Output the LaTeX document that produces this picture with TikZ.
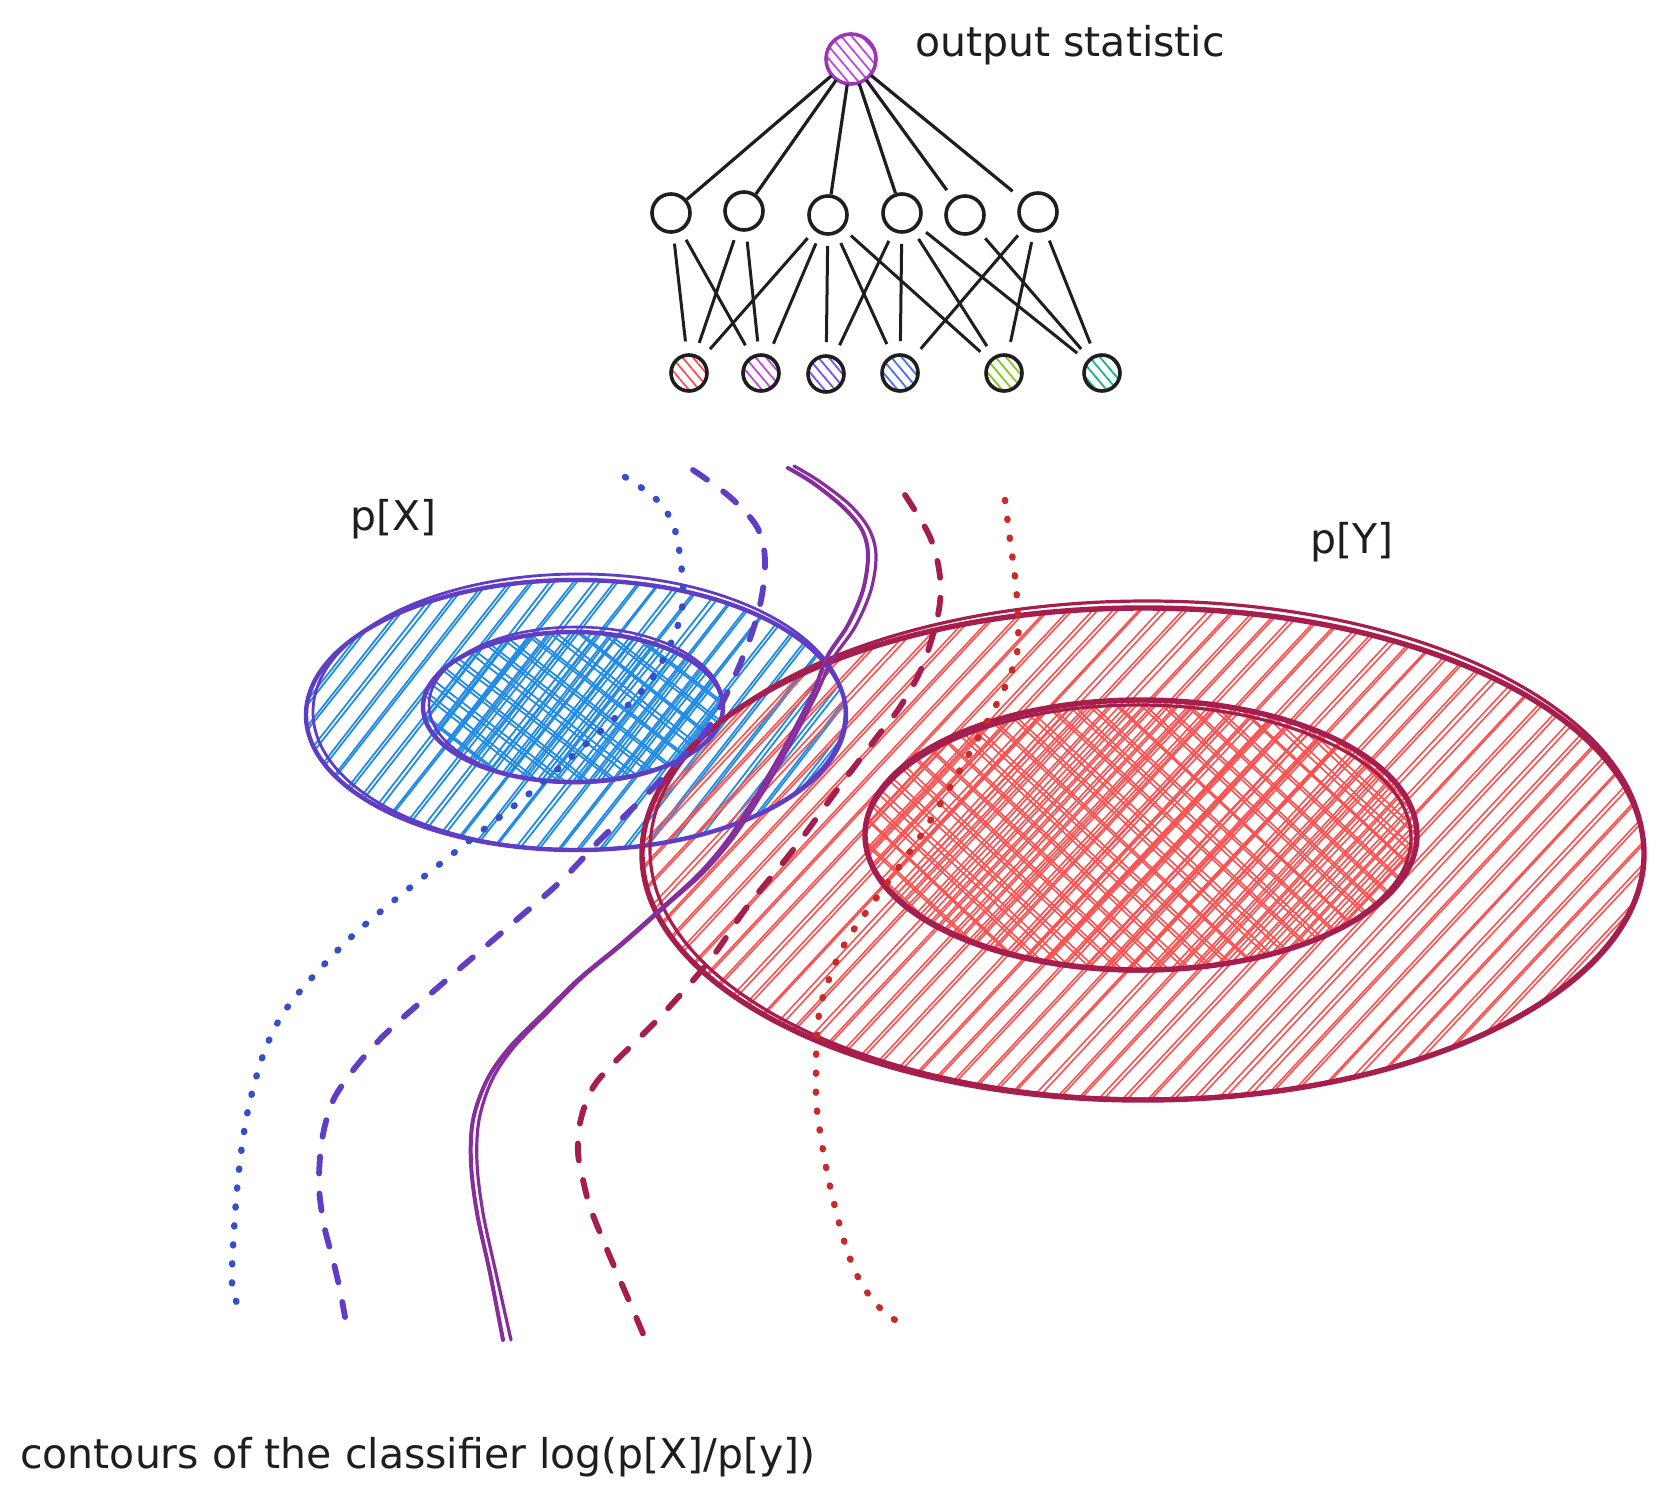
\documentclass[tikz,border=0pt]{standalone}
\usepackage{fontspec}
\newfontfamily\hand{DejaVu Sans}
\usetikzlibrary{patterns.meta}
\definecolor{ink}{HTML}{1E1E1E}
\definecolor{bluehatch}{HTML}{228BE6}
\definecolor{blueline}{HTML}{5F3DC4}
\definecolor{redhatch}{HTML}{FA5252}
\definecolor{redline}{HTML}{A61E4D}
\definecolor{cdotblue}{HTML}{364FC7}
\definecolor{cdashviolet}{HTML}{5F3DC4}
\definecolor{csolid}{HTML}{862E9C}
\definecolor{cdashred}{HTML}{A61E4D}
\definecolor{cdotred}{HTML}{C92A2A}
\definecolor{ngrape}{HTML}{BE4BDB}
\definecolor{ngrapeline}{HTML}{9C36B5}
\definecolor{nred}{HTML}{FA5252}
\definecolor{nviolet}{HTML}{7950F2}
\definecolor{nindigo}{HTML}{4C6EF5}
\definecolor{nlime}{HTML}{82C91E}
\definecolor{nteal}{HTML}{12B886}
\pgfmathsetseed{7}
% \hatchell{cx}{cy}{rx}{ry}{angle}{gap}{count}{colour}{width}
\newcommand\hatchell[9]{%
  \begin{scope}
    \clip (#1,#2) ellipse [x radius=#3pt, y radius=#4pt];
    \begin{scope}[shift={(#1,#2)}, rotate=#5]
      \foreach \k in {-#7,...,#7}{
        \pgfmathsetmacro\ya{\k*#6+2*rand}
        \pgfmathsetmacro\yb{\k*#6+2*rand}
        \pgfmathsetmacro\yc{\ya+3+2*rand}
        \pgfmathsetmacro\yd{\yb+3+2*rand}
        \draw[#8, line width=#9] (-#3-20,\ya) -- (#3+20,\yb);
        \draw[#8, line width=#9] (-#3-20,\yc) -- (#3+20,\yd);
      }
    \end{scope}
  \end{scope}}
\begin{document}
\begin{tikzpicture}[x=1pt,y=-1pt,
  txt/.style={anchor=base west, text=ink, inner sep=0pt, font=\hand\fontsize{41}{49}\selectfont},
  hid/.style={circle, draw=ink, line width=3.6pt, minimum size=38pt, inner sep=0pt},
  bot/.style={circle, draw=ink, line width=3.6pt, minimum size=36pt, inner sep=0pt,
     pattern={Lines[angle=-50,distance=8pt,line width=1.8pt]}},
  topn/.style={circle, draw=ngrapeline, line width=3.6pt, minimum size=50pt, inner sep=0pt,
     pattern={Lines[angle=-50,distance=8pt,line width=1.8pt]}, pattern color=ngrape},
  edge/.style={draw=ink, line width=3.2pt},
  edge2/.style={draw=ink, line width=3pt, shorten <=10pt, shorten >=12pt},
  dotc/.style={line width=6.5pt, line cap=round, dash pattern=on 1pt off 18pt},
  dashc/.style={line width=5.8pt, line cap=round, dash pattern=on 17pt off 20pt},
]
\fill[white] (0,0) rectangle (1658,1498);
\useasboundingbox (0,0) rectangle (1658,1498);

% ---------- network ----------
\node[topn] (t) at (851,59) {};
\node[hid] (h1) at (671,213) {};
\node[hid] (h2) at (744,211) {};
\node[hid] (h3) at (828,215) {};
\node[hid] (h4) at (902,213) {};
\node[hid] (h5) at (965,215) {};
\node[hid] (h6) at (1038,212) {};
\node[bot, pattern color=nred] (b1) at (689,373) {};
\node[bot, pattern color=ngrape] (b2) at (761,373) {};
\node[bot, pattern color=nviolet] (b3) at (826,374) {};
\node[bot, pattern color=nindigo] (b4) at (900,373) {};
\node[bot, pattern color=nlime] (b5) at (1004,373) {};
\node[bot, pattern color=nteal] (b6) at (1102,373) {};

\foreach \h in {h1,h2,h3,h4}{\draw[edge] (t) -- (\h);}
\draw[edge, shorten >=10pt] (t) -- (h5);
\draw[edge, shorten >=12pt] (t) -- (h6);

\foreach \a/\b in {h1/b1,h1/b2,h2/b1,h2/b2,h3/b1,h3/b2,h3/b3,h3/b4,h3/b5,
                   h4/b3,h4/b4,h4/b5,h4/b6,h5/b6,h6/b4,h6/b5,h6/b6}{
  \draw[edge2] (\a) -- (\b);
}

\node[txt] (lout) at (915,57) {output statistic};

% ---------- fills ----------
\hatchell{576}{715}{270}{135}{52}{17}{18}{bluehatch}{1.8pt}
\hatchell{573}{707}{150}{75}{52}{16}{11}{bluehatch}{1.8pt}
\hatchell{573}{707}{150}{75}{-38}{16}{11}{bluehatch}{1.8pt}
\hatchell{1143}{854}{501}{246}{47}{17}{32}{redhatch}{1.6pt}
\hatchell{1141}{835}{276}{135}{47}{16}{19}{redhatch}{1.6pt}
\hatchell{1141}{835}{276}{135}{-43}{16}{19}{redhatch}{1.6pt}

% ---------- outlines ----------
\draw[blueline, line width=4.4pt] (576,715) ellipse [x radius=270pt, y radius=135pt];
\draw[blueline, line width=2.8pt] (579,712) ellipse [x radius=266pt, y radius=138pt];
\draw[blueline, line width=4.4pt] (573,707) ellipse [x radius=150pt, y radius=75pt];
\draw[blueline, line width=2.6pt] (576,705) ellipse [x radius=147pt, y radius=78pt];
\draw[redline, line width=5.4pt] (1143,854) ellipse [x radius=501pt, y radius=246pt];
\draw[redline, line width=3.2pt] (1147,850) ellipse [x radius=497pt, y radius=249pt];
\draw[redline, line width=5.4pt] (1141,835) ellipse [x radius=276pt, y radius=135pt];
\draw[redline, line width=3.2pt] (1138,838) ellipse [x radius=273pt, y radius=133pt];

% ---------- contours ----------
\draw[cdotblue, dotc] plot[smooth, tension=0.55] coordinates {
 (625,477) (657,500) (675,530) (683,587) (678,625) (653,677) (615,718) (587,743)
 (530,793) (455,852) (380,912) (338,950) (289,1005) (265,1050) (248,1110)
 (239,1170) (234,1230) (232,1283) (237,1303) (248,1315)};

\draw[cdashviolet, dashc] plot[smooth, tension=0.55] coordinates {
 (693,470) (730,497) (757,527) (765,560) (760,605) (743,657) (712,722) (680,760)
 (641,800) (600,840) (560,882) (507,928) (450,977) (397,1023) (370,1050) (348,1077)
 (332,1103) (322,1140) (319,1185) (324,1225) (333,1260) (340,1290) (345,1317)};

\draw[csolid, line width=4pt, line cap=round] plot[smooth, tension=0.55] coordinates {
 (788,468) (813,483) (843,507) (862,530) (868,555) (863,590) (848,625) (827,657)
 (813,693) (787,743) (760,790) (730,837) (700,873) (663,907) (620,945) (580,978)
 (547,1010) (510,1047) (487,1080) (473,1120) (471,1163) (477,1213) (490,1273) (503,1340)};
\draw[csolid, line width=3.2pt, line cap=round] plot[smooth, tension=0.55] coordinates {
 (794,466) (819,481) (850,505) (869,529) (876,555) (871,590) (855,627) (832,660)
 (816,695) (790,745) (763,792) (733,838) (703,873) (666,906) (623,944) (583,977)
 (550,1010) (514,1047) (492,1080) (479,1120) (477,1163) (483,1213) (496,1273) (511,1340)};

\draw[cdashred, dashc] plot[smooth, tension=0.55] coordinates {
 (905,495) (930,537) (940,577) (938,615) (922,667) (900,707) (877,737) (837,790)
 (793,850) (747,907) (710,960) (660,1017) (607,1070) (590,1093) (580,1123)
 (578,1153) (583,1180) (590,1207) (603,1240) (617,1273) (630,1303) (647,1343)};

\draw[cdotred, dotc] plot[smooth, tension=0.55] coordinates {
 (1005,500) (1010,540) (1015,577) (1018,615) (1017,653) (1005,687) (988,720)
 (960,770) (920,837) (877,897) (843,947) (822,1000) (817,1037) (816,1073)
 (817,1110) (826,1167) (835,1207) (847,1250) (861,1283) (879,1307) (895,1320)};

% ---------- labels ----------
\node[txt] (lx) at (350,530) {p[X]};
\node[txt] (ly) at (1310,553) {p[Y]};
\node[txt] (lcap) at (20,1468) {contours of the classifier log(p[X]/p[y])};
\end{tikzpicture}
\end{document}
